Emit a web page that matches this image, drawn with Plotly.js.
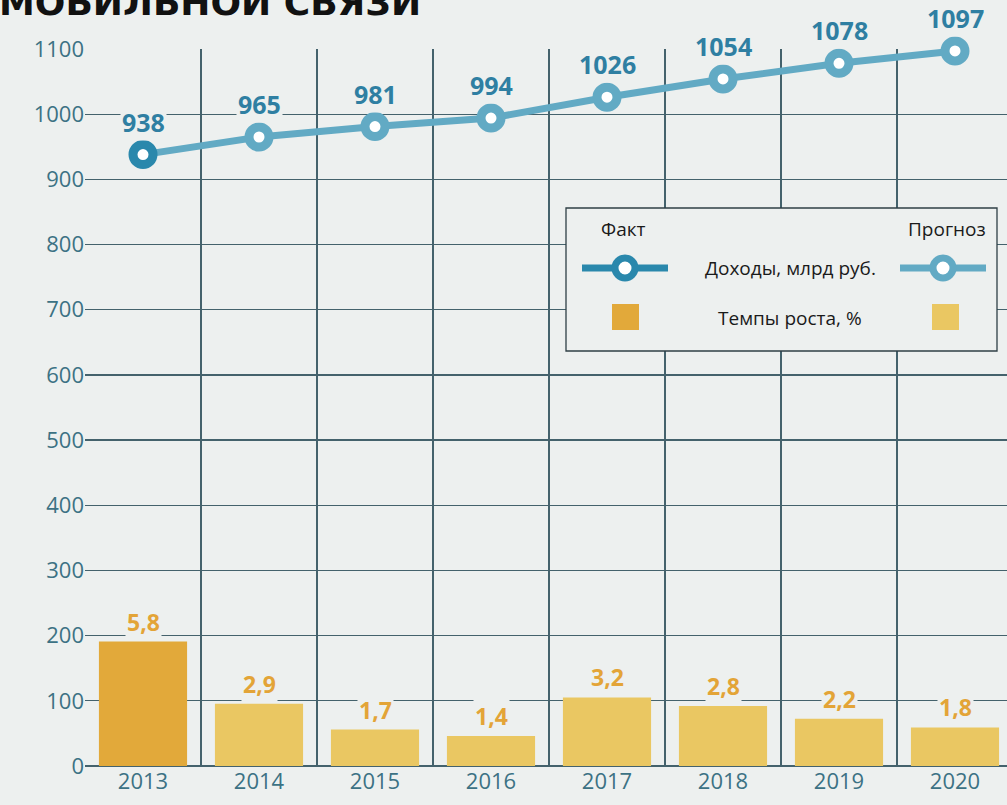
<!DOCTYPE html>
<html>
<head>
<meta charset="utf-8">
<script src="https://cdn.plot.ly/plotly-3.0.1.min.js"></script>
<style>html,body{margin:0;padding:0;background:#EDF0EF;}#chart{width:1007px;height:805px;}</style>
</head>
<body>
<div id="chart"></div>
<script>
// ---- data ----
const years = ["2013", "2014", "2015", "2016", "2017", "2018", "2019", "2020"];
const revenue = [938, 965, 981, 994, 1026, 1054, 1078, 1097];     // Доходы, млрд руб.
const growth = [5.8, 2.9, 1.7, 1.4, 3.2, 2.8, 2.2, 1.8];          // Темпы роста, %
const isFact = [true, false, false, false, false, false, false, false];
const yTicks = [0, 100, 200, 300, 400, 500, 600, 700, 800, 900, 1000, 1100];

// ---- styling ----
const BG = "#EDF0EF";
const GRID = "#44626C";
const FACT_LINE = "#2A88AC", FORE_LINE = "#62AAC4";
const FACT_BAR = "#E2A93A", FORE_BAR = "#EAC762";
const LABEL_BLUE = "#2F7FA2", LABEL_ORANGE = "#E3A437";
const TICK_COLOR = "#3C7284";
const FONT = "Open Sans, Noto Sans, sans-serif";

const W = 1007, H = 805;
const M = {l: 85, r: 0, t: 49, b: 39};
const plotW = W - M.l - M.r, plotH = H - M.t - M.b;
const px = x => (x - M.l) / plotW;
const py = y => (H - M.b - y) / plotH;

const barTrace = {
  type: "bar", x: years, y: growth, yaxis: "y2",
  marker: {color: isFact.map(f => f ? FACT_BAR : FORE_BAR), line: {width: 0}},
  width: 0.76, hoverinfo: "skip", showlegend: false
};
const lineTrace = {
  type: "scatter", mode: "lines+markers", x: years, y: revenue, cliponaxis: false,
  line: {color: FORE_LINE, width: 7},
  marker: {symbol: "circle", size: 20, color: "#FFFFFF",
           line: {width: 9, color: isFact.map(f => f ? FACT_LINE : FORE_LINE)}},
  hoverinfo: "skip", showlegend: false
};

const annotations = [];
years.forEach((yr, i) => {
  // category axis: position by category index
  annotations.push({x: i, y: revenue[i], xref: "x", yref: "y", text: String(revenue[i]),
    showarrow: false, yanchor: "bottom", yshift: 14, bgcolor: BG, borderpad: 1,
    font: {family: FONT, size: 25, color: LABEL_BLUE, weight: 700}});
  annotations.push({x: i, y: growth[i], xref: "x", yref: "y2", text: String(growth[i]).replace(".", ","),
    showarrow: false, yanchor: "bottom", yshift: 2, bgcolor: BG, borderpad: 1,
    font: {family: FONT, size: 23, color: LABEL_ORANGE, weight: 700}});
});
// custom legend texts
const legText = (t, x, y) => annotations.push({x: px(x), y: py(y), xref: "paper", yref: "paper",
  text: t, showarrow: false, xanchor: "center", yanchor: "middle",
  font: {family: FONT, size: 19, color: "#1A1A1A"}});
legText("Факт", 623, 229);
legText("Прогноз", 947, 229);
legText("Доходы, млрд руб.", 790, 268);
legText("Темпы роста, %", 790, 318);
// partially cropped header at the very top (cut off in the reference as well)
annotations.push({x: 0, y: 1, xref: "paper", yref: "paper", text: "МОБИЛЬНОЙ СВЯЗИ",
  showarrow: false, xanchor: "left", yanchor: "bottom", xshift: -88, yshift: 24,
  font: {family: "DejaVu Sans, sans-serif", size: 36, color: "#111111", weight: 900}});

const shapes = [];
shapes.push({type: "rect", xref: "paper", yref: "paper", x0: px(566), x1: px(997), y0: py(351), y1: py(208),
  fillcolor: BG, line: {color: "#2F3F45", width: 1.3}, layer: "above"});
const glyph = (cx, col) => {
  shapes.push({type: "line", xref: "paper", yref: "paper", x0: px(cx - 43), x1: px(cx + 43), y0: py(268), y1: py(268),
    line: {color: col, width: 7}, layer: "above"});
  shapes.push({type: "circle", xref: "paper", yref: "paper", x0: px(cx - 10), x1: px(cx + 10), y0: py(278), y1: py(258),
    fillcolor: "#FFFFFF", line: {color: col, width: 7}, layer: "above"});
};
glyph(625, FACT_LINE);
glyph(943, FORE_LINE);
const sq = (x0, col) => shapes.push({type: "rect", xref: "paper", yref: "paper", x0: px(x0), x1: px(x0 + 27),
  y0: py(330), y1: py(304), fillcolor: col, line: {width: 0}, layer: "above"});
sq(612, FACT_BAR);
sq(932, FORE_BAR);

const layout = {
  width: W, height: H, margin: M,
  paper_bgcolor: BG, plot_bgcolor: BG,
  font: {family: FONT},
  showlegend: false,
  xaxis: {type: "category", categoryarray: years, tickson: "boundaries", range: [-0.5, -0.5 + plotW / 116],
          showgrid: true, gridcolor: GRID, gridwidth: 1.2, ticks: "", showline: false, zeroline: false,
          tickfont: {size: 22, color: TICK_COLOR}, fixedrange: true},
  yaxis: {range: [0, 1100], tickvals: yTicks, showgrid: true, gridcolor: GRID, gridwidth: 1.2,
          zeroline: true, zerolinecolor: GRID, zerolinewidth: 1.4, ticks: "", showline: false,
          tickfont: {size: 22, color: TICK_COLOR}, fixedrange: true},
  yaxis2: {overlaying: "y", range: [0, 1100 / 32.9], visible: false, fixedrange: true},
  annotations: annotations, shapes: shapes
};

Plotly.newPlot("chart", [barTrace, lineTrace], layout, {displayModeBar: false, staticPlot: true});
</script>
</body>
</html>
